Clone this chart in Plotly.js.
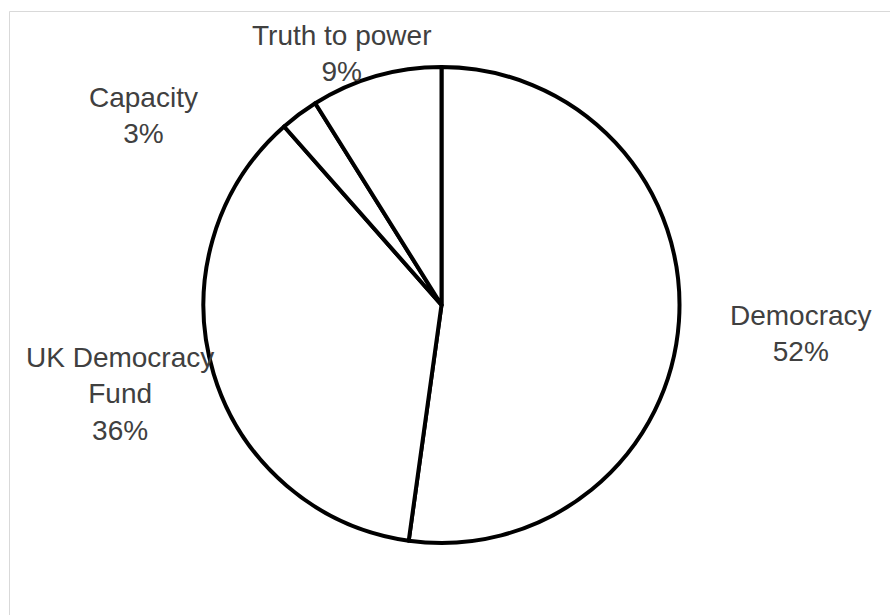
<!DOCTYPE html>
<html>
<head>
<meta charset="utf-8">
<script src="https://cdn.plot.ly/plotly-3.0.1.min.js"></script>
<style>html,body{margin:0;padding:0;background:#fff;}#chart{width:890px;height:615px;}</style>
</head>
<body>
<div id="chart"></div>
<script>
// Data
const categories = ["Democracy", "UK Democracy Fund", "Capacity", "Truth to power"];
const values = [52.2, 36.3, 2.6, 8.9];
const displayLabels = ["Democracy", "UK Democracy<br>Fund", "Capacity", "Truth to power"];

// Label placement (pixels in the 890x615 frame) - layout only
const labelPos = [[800.5, 333], [120, 394], [143.5, 116], [341, 53]];

const W = 890, H = 615;
const total = values.reduce((a, b) => a + b, 0);
const cx = 441.5, cy = 305, r = 238;

const trace = {
  type: 'pie',
  labels: categories,
  values: values,
  sort: false,
  direction: 'clockwise',
  rotation: 0,
  textinfo: 'none',
  hoverinfo: 'none',
  showlegend: false,
  marker: {colors: categories.map(() => '#ffffff'), line: {color: '#000000', width: 4}},
  domain: {x: [(cx - r) / W, (cx + r) / W], y: [1 - (cy + r) / H, 1 - (cy - r) / H]}
};

const annotations = categories.map((c, i) => ({
  xref: 'paper', yref: 'paper',
  x: labelPos[i][0] / W, y: 1 - labelPos[i][1] / H,
  xanchor: 'center', yanchor: 'middle',
  text: displayLabels[i] + '<br>' + Math.round(values[i] / total * 100) + '%',
  showarrow: false,
  align: 'center',
  font: {family: '"Liberation Sans", Arial, sans-serif', size: 28, color: '#404040'}
}));

const layout = {
  width: W, height: H,
  margin: {l: 0, r: 0, t: 0, b: 0},
  paper_bgcolor: '#ffffff',
  plot_bgcolor: '#ffffff',
  annotations: annotations,
  shapes: [{type: 'rect', xref: 'paper', yref: 'paper', x0: 9.5 / W, x1: 1.2, y0: -0.2, y1: 1 - 11.5 / H,
            line: {color: '#d9d9d9', width: 1}, fillcolor: 'rgba(0,0,0,0)', layer: 'below'}]
};

Plotly.newPlot('chart', [trace], layout, {displayModeBar: false, staticPlot: true});
</script>
</body>
</html>
